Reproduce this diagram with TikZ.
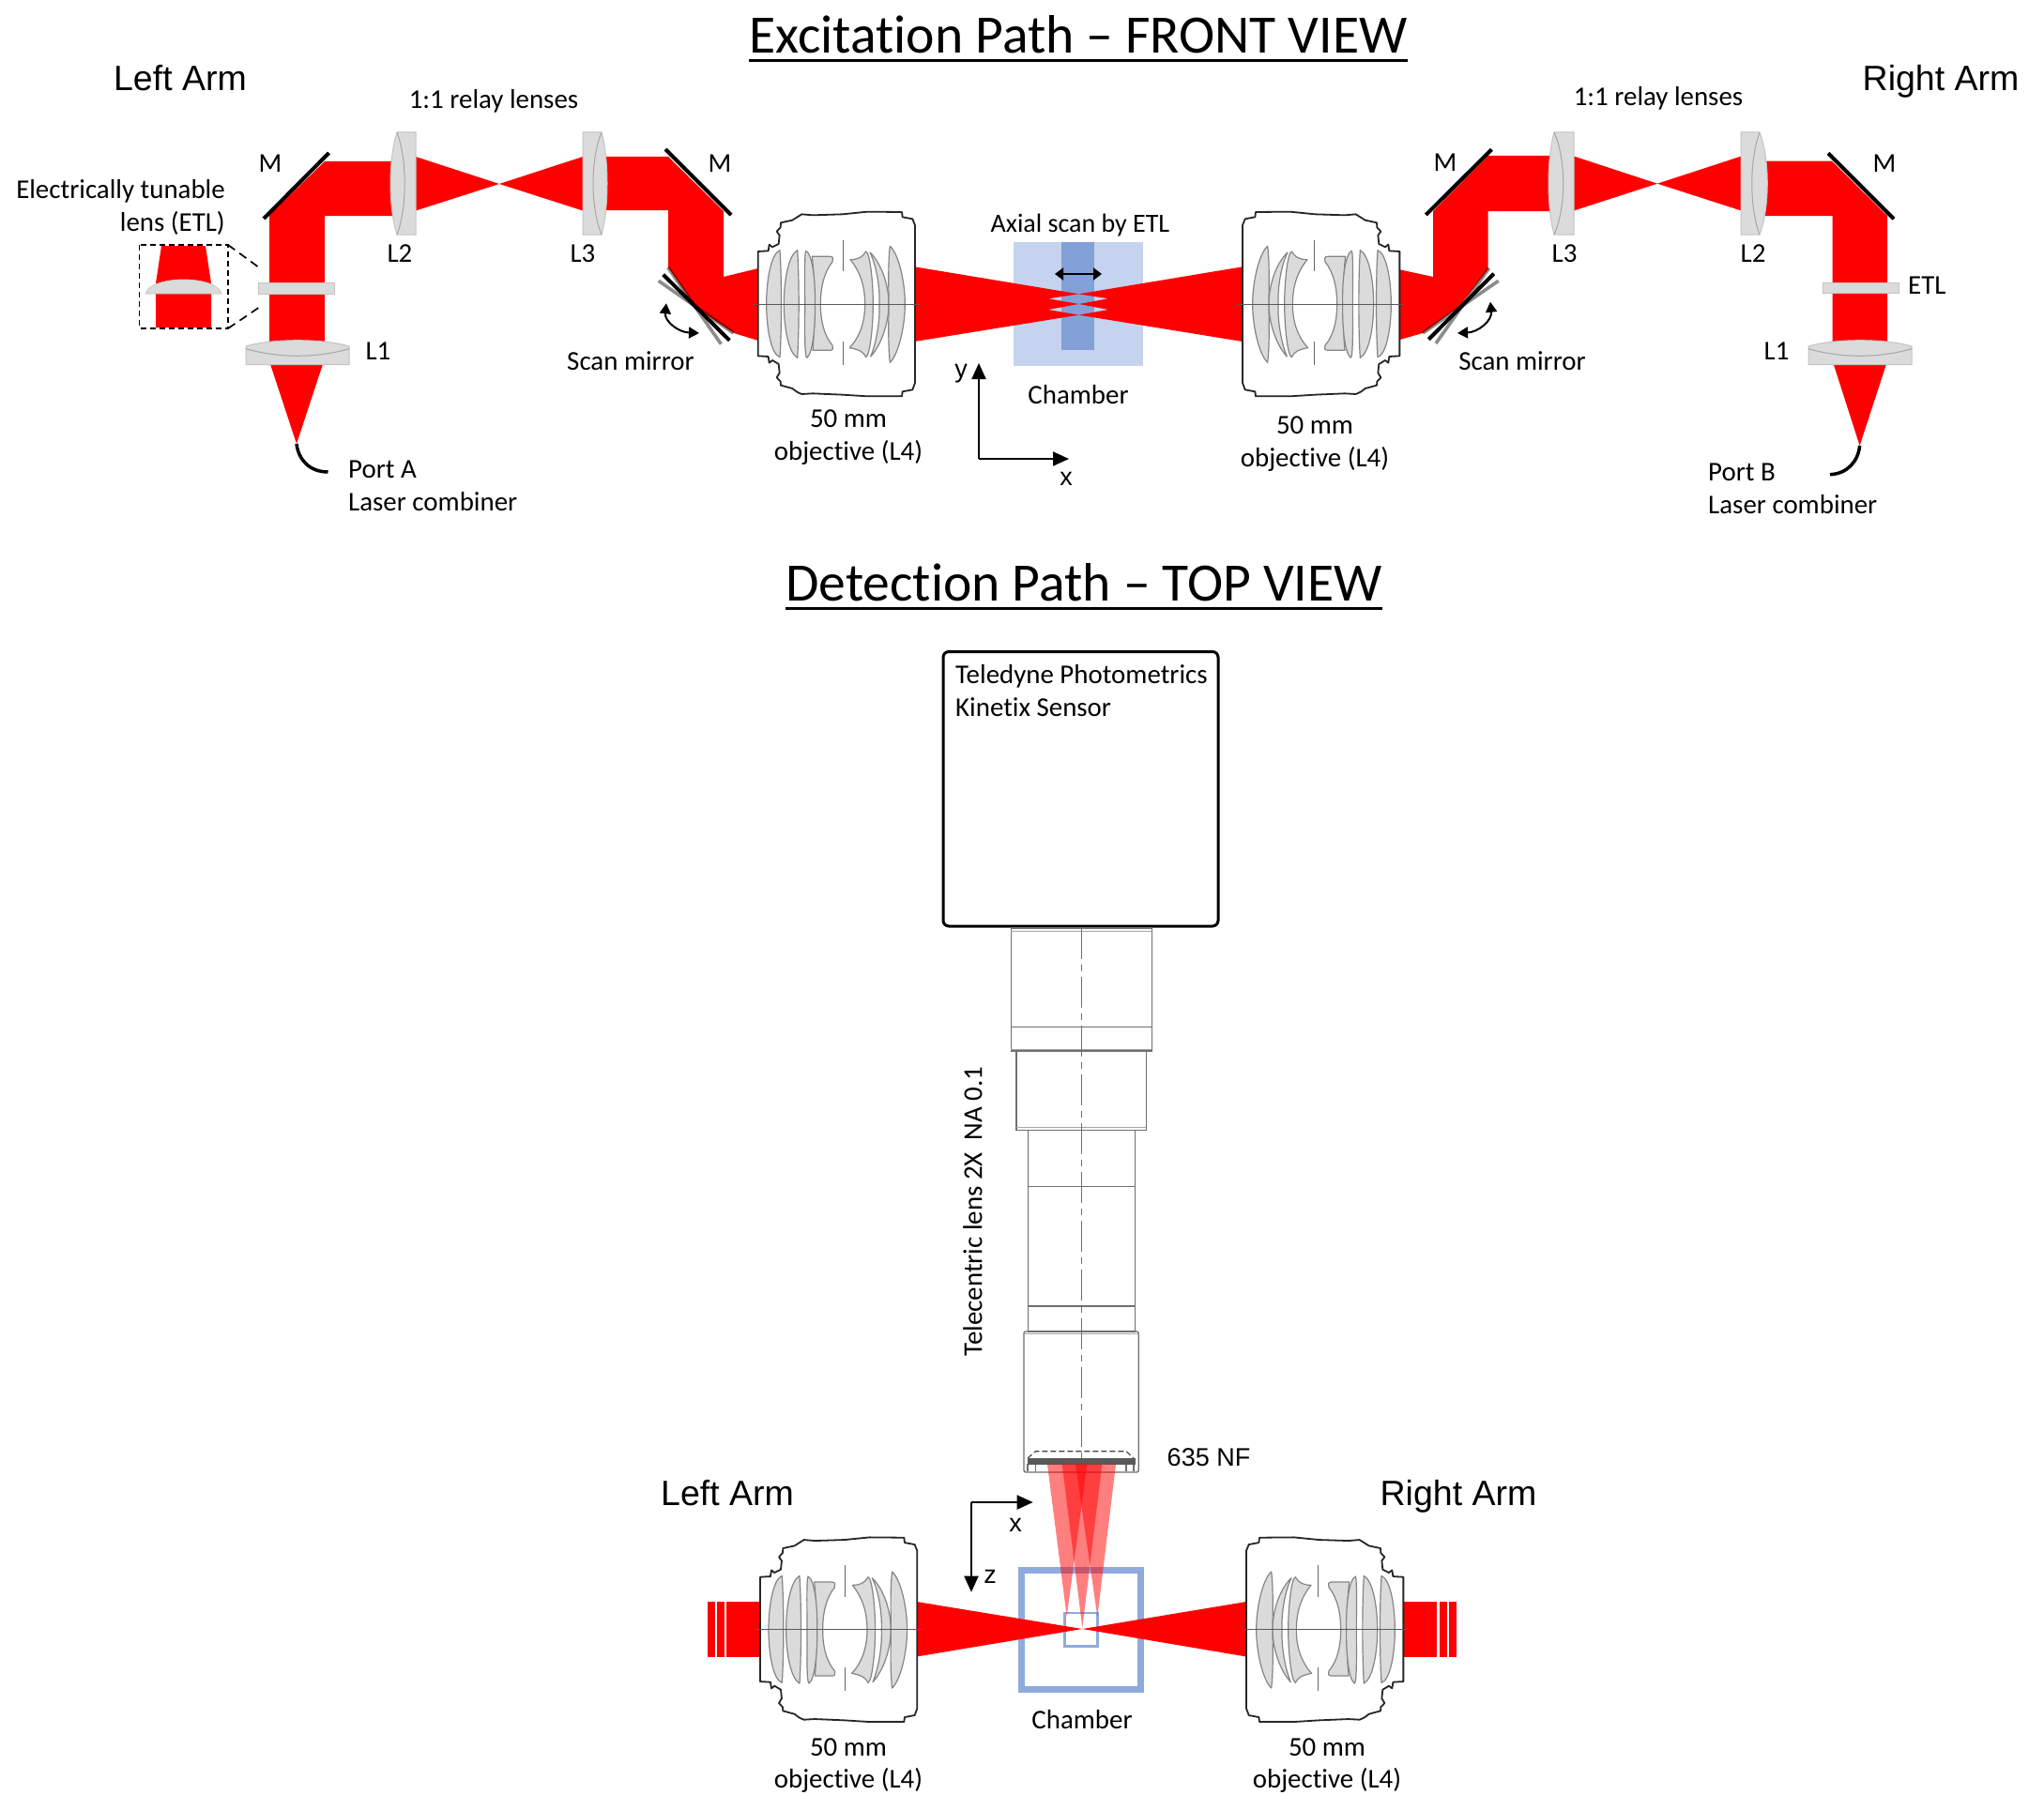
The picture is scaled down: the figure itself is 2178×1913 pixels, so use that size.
\documentclass[tikz,border=0pt]{standalone}
\usepackage{fontspec}
\setmainfont[Ligatures=NoCommon]{Carlito}
\newfontfamily\arialf{Liberation Sans}
\usetikzlibrary{arrows.meta}
\definecolor{lensgrey}{HTML}{DBDBDB}
\definecolor{lensedge}{HTML}{C4C4C4}
\definecolor{lensline}{HTML}{A6A6A6}
\definecolor{elemedge}{HTML}{858585}
\definecolor{chamberlight}{HTML}{C5D3EE}
\definecolor{chamberdark}{HTML}{84A0D8}
\definecolor{chamberline}{HTML}{8FAADC}
\definecolor{barrel}{HTML}{6E6E6E}
\tikzset{
  lbl/.style={font=\fontsize{28.9}{32}\selectfont,inner sep=0pt,text height=.68em,text depth=.2em,yshift=-6pt},
  arm/.style={font=\arialf\fontsize{37.5}{42}\selectfont,inner sep=0pt,text height=.72em,text depth=.1em,yshift=-8pt},
  titletext/.style={font=\fontsize{57.6}{62}\selectfont,inner sep=0pt,anchor=base},
  arialtext/.style={font=\arialf\fontsize{27}{30}\selectfont,inner sep=0pt},
  beam/.style={fill=red},
  glass/.style={fill=lensgrey,draw=lensedge,line width=1pt},
  glassline/.style={draw=lensline,line width=1pt},
  mirror/.style={draw=black,line width=4pt},
  mirrorgrey/.style={draw=black,draw opacity=.45,line width=3.6pt},
  portcurve/.style={draw=black,line width=3.5pt},
  axisarrow/.style={draw=black,line width=2pt,-{Triangle[length=17pt,width=15pt]}},
  swing/.style={draw=black,line width=2pt,{Triangle[length=11pt,width=12pt]}-{Triangle[length=11pt,width=12pt]}},
  elem/.style={fill=lensgrey,draw=elemedge,line width=1.2pt,line join=round},
  barrelline/.style={draw=barrel,line width=1.3pt},
  barrelsoft/.style={draw=black!35,line width=1pt},
  underl/.style={draw=black,line width=3pt},
}
% objective: #1,#2 axis centre, #3 = 1 or -1 (mirror)
\newcommand{\objective}[3]{%
\begin{scope}[shift={(#1,#2)},xscale=#3*0.33333,yscale=0.33333,shift={(-460,-350)}]
 \draw[black!85,line width=1.8pt,line join=round,fill=white]
  (210,350) -- (210,182) -- (243,180) -- (246,160) -- (256,168) -- (276,158) -- (279,130) -- (270,118) -- (282,105) -- (283,90)
  -- (320,82) .. controls (335,70) .. (350,63) -- (385,66) -- (480,63) -- (560,55) -- (670,56) -- (672,72) -- (704,78) -- (712,98)
  -- (712,602) -- (704,624) -- (672,630) -- (670,645) -- (560,645) -- (480,640) -- (385,636) -- (350,638)
  .. controls (335,632) .. (320,620) -- (283,610) -- (282,598) -- (270,585) -- (279,570) -- (276,542) -- (256,530) -- (246,538) -- (243,518) -- (210,516) -- cycle;
 \path[elem] (280,178) .. controls (250,190) and (237,280) .. (237,350) .. controls (237,420) and (250,510) .. (280,520) .. controls (286,430) and (286,270) .. (280,178) -- cycle;
 \path[elem] (336,178) .. controls (306,195) and (293,280) .. (293,350) .. controls (293,420) and (306,505) .. (336,522) .. controls (342,430) and (342,270) .. (336,178) -- cycle;
 \path[elem] (383,198) -- (440,198) .. controls (450,200) .. (448,215) .. controls (420,250) and (410,300) .. (410,350) .. controls (410,400) and (420,450) .. (448,482) .. controls (450,496) .. (440,498) -- (385,498) .. controls (392,430) and (392,270) .. (383,198) -- cycle;
 \path[elem] (363,180) .. controls (385,190) and (394,280) .. (392,350) .. controls (394,420) and (385,510) .. (366,522) .. controls (358,515) and (360,420) .. (360,350) .. controls (360,280) and (358,190) .. (363,180) -- cycle;
 \path[elem] (505,208) .. controls (530,208) and (545,200) .. (555,182) .. controls (568,185) and (578,280) .. (578,350) .. controls (578,420) and (568,515) .. (555,520) .. controls (545,500) and (530,495) .. (503,490) .. controls (540,450) and (552,400) .. (552,350) .. controls (552,300) and (540,250) .. (505,208) -- cycle;
 \path[elem] (568,185) .. controls (605,220) and (628,290) .. (628,350) .. controls (628,410) and (605,480) .. (570,518) .. controls (590,470) and (600,400) .. (598,350) .. controls (600,300) and (590,230) .. (568,185) -- cycle;
 \path[elem] (632,165) .. controls (660,190) and (680,280) .. (680,350) .. controls (680,420) and (660,510) .. (632,537) .. controls (625,480) and (628,400) .. (628,350) .. controls (628,300) and (625,220) .. (632,165) -- cycle;
 \draw[black!60,line width=1.2pt] (482,145) -- (482,245) (482,470) -- (482,545);
 \draw[black!65,line width=1pt] (196,350) -- (728,350);
\end{scope}}
% relay lens: flat x, joint x, bulge control x, inner control x
\newcommand{\relay}[4]{%
 \path[glass] (#1,141) -- (#2,141) .. controls (#3,170) and (#3,221) .. (#2,250) -- (#1,250) -- cycle;
 \draw[glassline] (#2,141) .. controls (#4,170) and (#4,221) .. (#2,250);}
% focusing lens L1: left, right
\newcommand{\loneglass}[2]{%
 \path[glass] (#1,369) .. controls (#1+28,360.6) and (#2-28,360.6) .. (#2,369) -- (#2,388.5) -- (#1,388.5) -- cycle;
 \draw[glassline] (#1,371.7) .. controls (#1+35,381.8) and (#2-35,381.8) .. (#2,371.7);}
\begin{document}
\begin{tikzpicture}[x=1pt,y=-1pt]
\useasboundingbox[fill=white] (0,0) rectangle (2178,1913);

% ===== titles =====
\node[titletext] (t1) at (1149,57) {Excitation Path -- FRONT VIEW};
\draw[underl] ([yshift=-8pt]t1.base west) -- ([yshift=-8pt]t1.base east);
\node[titletext] (t2) at (1155,640) {Detection Path -- TOP VIEW};
\draw[underl] ([yshift=-8pt]t2.base west) -- ([yshift=-8pt]t2.base east);

% ===== chamber front view =====
\fill[chamberlight] (1079.5,257.7) rectangle (1217.8,390);
\fill[chamberdark] (1130.5,257.7) rectangle (1166.2,372.7);

% ===== left arm beam =====
\fill[beam] (287,389) -- (287,229) -- (346,172) -- (425,172) -- (425,230) -- (346,230) -- (346,389) -- cycle;
\fill[beam] (288,388) -- (344,388) -- (316,473) -- cycle;
\fill[beam] (443,167) -- (532,196) -- (443,224.5) -- cycle;
\fill[beam] (621,167) -- (532,196) -- (621,224.5) -- cycle;
\fill[beam] (640,167) -- (712,167) -- (771,225) -- (771,295) -- (808,286) -- (808,363) -- (782,355) -- (741.7,328) -- (712,285) -- (712,224) -- (640,224) -- cycle;
% right arm beam
\fill[beam] (2011,388) -- (2011,230) -- (1952,171.7) -- (1878,171.7) -- (1878,230) -- (1952.5,230) -- (1952.5,388) -- cycle;
\fill[beam] (1953.7,388) -- (2010,388) -- (1981.6,475) -- cycle;
\fill[beam] (1677,166.5) -- (1766,195.7) -- (1677,224.5) -- cycle;
\fill[beam] (1855.3,166.5) -- (1766,195.7) -- (1855.3,224.5) -- cycle;
\fill[beam] (1660,166) -- (1585.5,166) -- (1527,225) -- (1527,295) -- (1490,287) -- (1490,362.5) -- (1516,355) -- (1555,326.7) -- (1585.5,287) -- (1585.5,225) -- (1660,225) -- cycle;

% ===== central excitation beams =====
\fill[beam] (974.4,284.3) -- (1149.4,313.3) -- (1117,318.3) -- (1149.4,324) -- (1117,330) -- (1149.4,335.7) -- (974.4,364) -- cycle;
\fill[beam] (1324,284.3) -- (1149.4,313.3) -- (1181,318.3) -- (1149.4,324) -- (1181,330) -- (1149.4,335.7) -- (1324,364) -- cycle;

% ===== left arm optics =====
\relay{443}{423}{413.7}{434}
\relay{621}{641}{649}{629}
\path[glass] (275,301) rectangle (356,313);
\loneglass{262}{372}
\draw[mirror] (281,233) -- (350.5,163);
\draw[mirror] (709,159) -- (779,229);
\draw[mirror] (706.7,292.7) -- (777.3,362.7);
\draw[mirrorgrey] (701.7,299.3) -- (781.7,355);
\draw[mirrorgrey] (711.7,285) -- (768.3,366.7);
\coordinate (swA1) at (710,323.3);
\coordinate (swA2) at (745,355);
\draw[swing] (swA1) .. controls (708,342) and (722,354) .. (swA2);
\coordinate (portA) at (316,473);
\coordinate (portAend) at (349.5,503);
\draw[portcurve] (portA) .. controls (318,490) and (330,503) .. (portAend);
% inset
\fill[beam] (172,262) -- (219,262) -- (225,302) -- (225,349) -- (166,349) -- (166,302) -- cycle;
\path[fill=lensgrey,draw=lensedge,line width=.8pt] (155,313) .. controls (160,293) and (231,293) .. (236,313) -- cycle;
\draw[black,line width=1.7pt,dash pattern=on 6pt off 4pt] (148.5,261) rectangle (243,350);
\draw[black,line width=1.7pt,dash pattern=on 9pt off 6pt] (243,261) -- (274.5,284);
\draw[black,line width=1.7pt,dash pattern=on 9pt off 6pt] (243,350) -- (275.5,328);

% ===== right arm optics =====
\relay{1677}{1656}{1648}{1669}
\relay{1855}{1875}{1886}{1864}
\path[glass] (1942,301) rectangle (2023,312);
\loneglass{1927}{2037}
\draw[mirror] (1519.3,229) -- (1589.4,159.3);
\draw[mirror] (1948,163.3) -- (2018,233.3);
\draw[mirror] (1522.3,361.7) -- (1591.7,291.7);
\draw[mirrorgrey] (1530,366) -- (1586.7,285.7);
\draw[mirrorgrey] (1516,355) -- (1596.7,299.3);
\coordinate (swB1) at (1588,321.7);
\coordinate (swB2) at (1553,355);
\draw[swing] (swB1) .. controls (1590,342) and (1575,354) .. (swB2);
\coordinate (portB) at (1981.6,475);
\coordinate (portBend) at (1950,505.7);
\draw[portcurve] (portB) .. controls (1980,492) and (1968,505) .. (portBend);

% ===== objectives, front view =====
\objective{891}{324}{1}
\objective{1408}{324}{-1}

% ===== chamber arrow and axes =====
\draw[line width=2.6pt,black,{Triangle[length=9pt,width=13pt]}-{Triangle[length=9pt,width=13pt]}] (1124,292) -- (1174,292);
\coordinate (xyO) at (1043,489);
\coordinate (xyY) at (1043,387);
\coordinate (xyX) at (1139,489);
\draw[axisarrow] (xyO) -- (xyY);
\draw[axisarrow] (xyO) -- (xyX);

% ===== front view labels =====
\node[arm] (la1) at (192,85) {Left Arm};
\node[arm] (ra1) at (2068,85) {Right Arm};
\node[lbl] (rel1) at (526,107) {1:1 relay lenses};
\node[lbl] (rel2) at (1767,104) {1:1 relay lenses};
\node[lbl] (m1) at (288,175) {M};
\node[lbl] (m2) at (767,175) {M};
\node[lbl] (m3) at (1540,174) {M};
\node[lbl] (m4) at (2008,175) {M};
\node[lbl,anchor=east] (etl1) at (240,203) {Electrically tunable};
\node[lbl,anchor=east] (etl2) at (240,238) {lens (ETL)};
\node[lbl] (l2a) at (426,271) {L2};
\node[lbl] (l3a) at (621,271) {L3};
\node[lbl] (l1a) at (403,375) {L1};
\node[lbl] (sm1) at (672,386) {Scan mirror};
\node[lbl,anchor=west] (pa1) at (371,501) {Port A};
\node[lbl,anchor=west] (pa2) at (371,536) {Laser combiner};
\node[lbl] (ob1) at (904,447) {50 mm};
\node[lbl] (ob2) at (904,482) {objective (L4)};
\node[lbl] (ch1) at (1149,422) {Chamber};
\node[lbl,font=\fontsize{28}{32}\selectfont] (ax1) at (1151,239) {Axial scan by ETL};
\node[lbl] (l3b) at (1667,271) {L3};
\node[lbl] (l2b) at (1868,271) {L2};
\node[lbl,anchor=west] (etl3) at (2033,305) {ETL};
\node[lbl] (l1b) at (1893,375) {L1};
\node[lbl] (sm2) at (1622,386) {Scan mirror};
\node[lbl] (ob3) at (1401,454) {50 mm};
\node[lbl] (ob4) at (1401,489) {objective (L4)};
\node[lbl,anchor=west] (pb1) at (1820,504) {Port B};
\node[lbl,anchor=west] (pb2) at (1820,539) {Laser combiner};
\node[arialtext] (ay) at (1024,398) {y};
\node[arialtext] (ax) at (1136,510) {x};

% ===== detection: camera and telecentric lens =====
\draw[black,line width=3pt,rounded corners=6pt] (1005,694.5) rectangle (1298,987);
\node[lbl,anchor=west] (cam1) at (1018,720) {Teledyne Photometrics};
\node[lbl,anchor=west] (cam2) at (1018,755) {Kinetix Sensor};
\draw[barrelline] (1077.3,989) rectangle (1227.3,1120);
\draw[barrelsoft] (1077.3,992) -- (1227.3,992) (1077.3,1118) -- (1227.3,1118);
\draw[barrelline] (1077.3,1094.3) -- (1227.3,1094.3);
\draw[barrelline] (1083,1120) rectangle (1221.3,1204.3);
\draw[barrelsoft] (1083,1201) -- (1221.3,1201);
\draw[barrelline] (1095.3,1204.3) rectangle (1209.3,1419);
\draw[barrelline] (1095.3,1264.7) -- (1209.3,1264.7) (1095.3,1392) -- (1209.3,1392);
\draw[barrelline,rounded corners=2pt] (1091,1419) rectangle (1213.3,1569);
\draw[barrelsoft] (1091,1421) -- (1213.3,1421);
\draw[barrel,line width=1pt,dash pattern=on 33pt off 6pt on 7pt off 6pt] (1152.3,989) -- (1152.3,1560);
\draw[black!75,line width=1.1pt,dash pattern=on 6pt off 3pt] (1095,1554) -- (1103.5,1546.7) -- (1200,1546.7) -- (1208,1554);
\draw[barrelline] (1095,1560) -- (1095,1568) (1103.5,1560) -- (1103.5,1568) (1200,1560) -- (1200,1568) (1208,1560) -- (1208,1568);
\fill[black!65] (1095,1554) rectangle (1210,1560.7);

% ===== detection: chamber =====
\draw[chamberline,line width=7pt] (1088.7,1673) rectangle (1215.7,1800);
\draw[chamberline,line width=2.6pt] (1134.7,1719) rectangle (1169.3,1754.3);

% ===== detection: emission cones =====
\fill[red,opacity=.5] (1116,1560.7) -- (1158.3,1560.7) -- (1136.7,1723) -- cycle;
\fill[red,opacity=.5] (1131.7,1560.7) -- (1174.3,1560.7) -- (1153.3,1735) -- cycle;
\fill[red,opacity=.5] (1146,1560.7) -- (1189,1560.7) -- (1169.3,1723) -- cycle;

% ===== detection: excitation beams =====
\fill[beam] (976.7,1707) -- (1153.3,1736) -- (976.7,1765.5) -- cycle;
\fill[beam] (1328,1707) -- (1153.3,1736) -- (1328,1765.5) -- cycle;
\fill[beam] (774,1707) rectangle (812,1766);
\fill[beam] (764,1707) rectangle (771.7,1766);
\fill[beam] (754.3,1707) rectangle (762,1766);
\fill[beam] (1492,1707) rectangle (1531,1766);
\fill[beam] (1534,1707) rectangle (1542,1766);
\fill[beam] (1544,1707) rectangle (1551.5,1766);
\objective{893.3}{1736.7}{1}
\objective{1412}{1736.7}{-1}

% ===== detection axes and labels =====
\coordinate (xzO) at (1035,1601);
\coordinate (xzX) at (1100.7,1601);
\coordinate (xzZ) at (1035,1696.7);
\draw[axisarrow] (xzO) -- (xzX);
\draw[axisarrow] (xzO) -- (xzZ);
\node[arialtext] (bx) at (1082,1625) {x};
\node[arialtext] (bz) at (1055,1680) {z};
\node[arm] (la2) at (775,1593) {Left Arm};
\node[arm] (ra2) at (1554,1593) {Right Arm};
\node[arialtext] (nf) at (1288,1553) {635 NF};
\node[lbl,rotate=90] (tele) at (1044,1285) {Telecentric lens 2X\ \ NA 0.1};
\node[lbl] (ch2) at (1153,1834) {Chamber};
\node[lbl] (ob5) at (904,1863) {50 mm};
\node[lbl] (ob6) at (904,1897) {objective (L4)};
\node[lbl] (ob7) at (1414,1863) {50 mm};
\node[lbl] (ob8) at (1414,1897) {objective (L4)};
\end{tikzpicture}
\end{document}
